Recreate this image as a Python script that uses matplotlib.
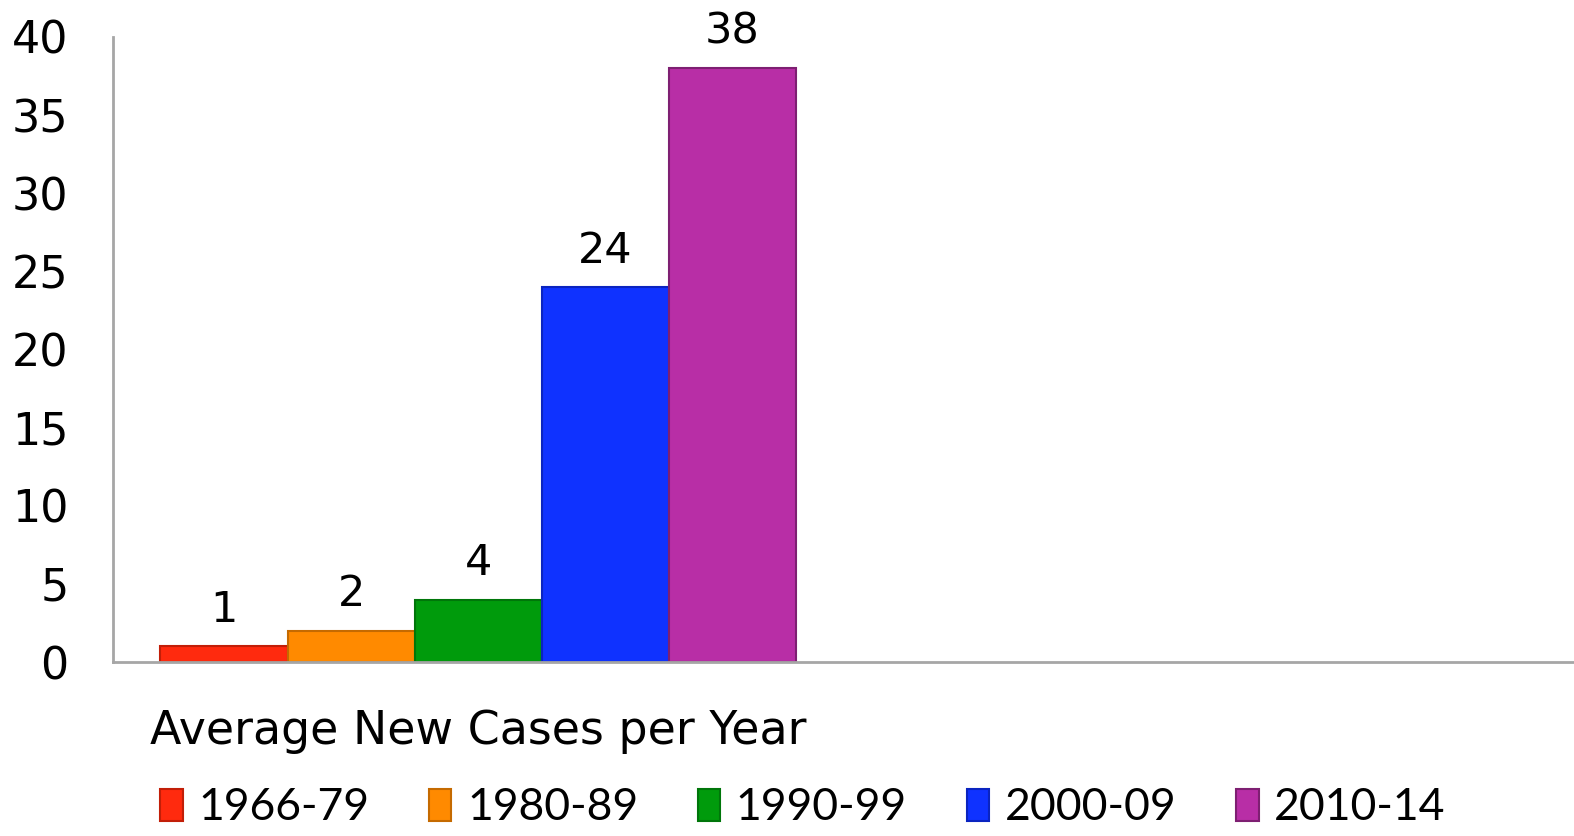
import matplotlib.pyplot as plt
import numpy as np

plt.rcParams['font.family'] = ['DejaVu Sans']

category = "Average New Cases per Year"
periods = ["1966-79", "1980-89", "1990-99", "2000-09", "2010-14"]
values = [1, 2, 4, 24, 38]
colors = ["#ff2a0e", "#ff8a00", "#009b0c", "#0f32ff", "#b82ea6"]
edges = ["#c21e08", "#c56a00", "#00760a", "#0a24c0", "#7e1f72"]

fig = plt.figure(figsize=(15.74, 8.36), dpi=100)
ax = fig.add_axes([113 / 1574, 1 - 662 / 836, 1 - 113 / 1574, (662 - 37) / 836])

w = 0.174
for i, (p, v, c, e) in enumerate(zip(periods, values, colors, edges)):
    b = ax.bar((i - 2) * w, v, width=w, color=c, edgecolor=e, linewidth=1.5, label=p)
    ax.bar_label(b, labels=[str(v)], padding=11, fontsize=31)

ax.set_xlim(-0.5, 1.5)
ax.set_ylim(0, 40)
ax.set_yticks(np.arange(0, 41, 5))
ax.set_xticks([0])
ax.set_xticklabels([category], fontsize=33)
ax.tick_params(axis='y', length=0, labelsize=32, pad=32)
ax.tick_params(axis='x', length=0, pad=34)
for s in ['top', 'right']:
    ax.spines[s].set_visible(False)
for s in ['left', 'bottom']:
    ax.spines[s].set_color("#a6a6a6")
    ax.spines[s].set_linewidth(2)

leg = fig.legend(loc='center', bbox_to_anchor=(803 / 1574, 1 - 808 / 836), ncol=5,
                 frameon=False, prop={'family': ['Lato'], 'size': 32},
                 handlelength=0.5, handleheight=0.7,
                 handletextpad=0.35, columnspacing=1.35)

fig.savefig("out.png", dpi=100)
